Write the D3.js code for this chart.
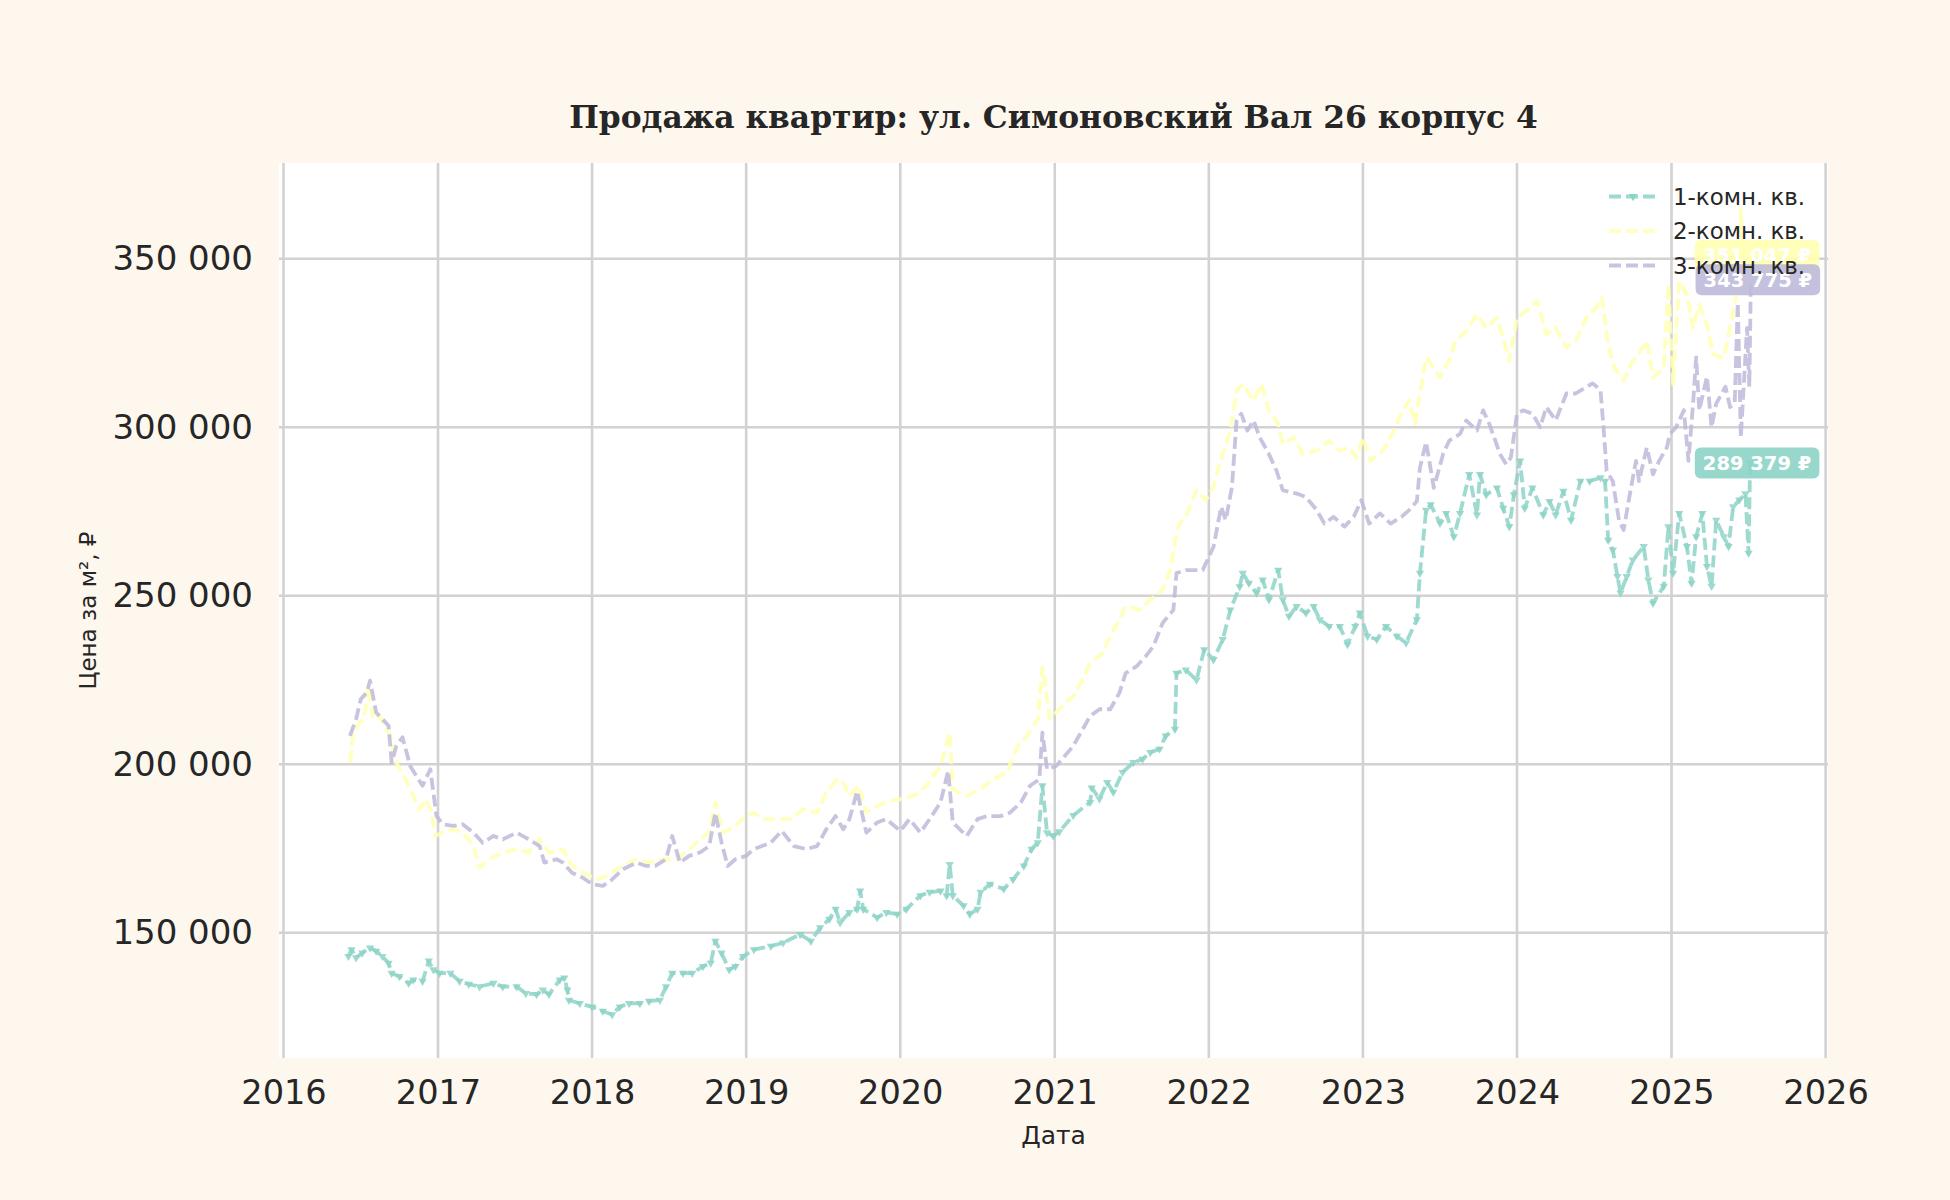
<!DOCTYPE html>
<html>
<head>
<meta charset="utf-8">
<script src="https://cdn.jsdelivr.net/npm/d3@7"></script>
<style>
  body { margin: 0; background: #fef7ed; }
  svg { display: block; }
</style>
</head>
<body>
<div id="chart"></div>
<script>
// ---- data (decimal years, price per m² in thousands of rubles) ----
const oneRoomT = [2016.42,2016.44,2016.47,2016.51,2016.56,2016.60,2016.64,2016.68,2016.70,2016.75,2016.81,2016.84,2016.90,2016.94,2016.97,
  2017.01,2017.08,2017.14,2017.20,2017.27,2017.36,2017.42,2017.51,2017.57,2017.64,2017.68,2017.72,2017.79,2017.82,2017.84,2017.85,2017.92,
  2018.00,2018.07,2018.13,2018.18,2018.24,2018.31,2018.37,2018.44,2018.48,2018.52,2018.59,2018.65,2018.72,2018.77,2018.80,2018.84,2018.89,2018.93,2018.98,
  2019.05,2019.16,2019.24,2019.35,2019.42,2019.48,2019.54,2019.58,2019.61,2019.67,2019.72,2019.74,2019.76,2019.85,2019.91,2019.98,
  2020.04,2020.13,2020.19,2020.26,2020.30,2020.32,2020.34,2020.41,2020.45,2020.50,2020.52,2020.58,2020.67,2020.73,2020.80,2020.85,2020.89,2020.92,2020.95,2020.99,
  2021.03,2021.12,2021.23,2021.24,2021.29,2021.34,2021.38,2021.44,2021.51,2021.57,2021.62,2021.68,2021.72,2021.78,2021.79,2021.85,2021.92,2021.97,
  2022.03,2022.09,2022.14,2022.20,2022.22,2022.26,2022.31,2022.35,2022.39,2022.45,2022.48,2022.52,2022.57,2022.63,2022.68,2022.72,2022.78,2022.85,2022.90,2022.95,2022.98,
  2023.03,2023.09,2023.15,2023.22,2023.28,2023.35,2023.37,2023.41,2023.44,2023.50,2023.54,2023.59,2023.63,2023.69,2023.74,2023.76,2023.80,2023.87,2023.91,2023.95,2023.98,
  2024.02,2024.05,2024.10,2024.17,2024.21,2024.25,2024.30,2024.35,2024.41,2024.47,2024.54,2024.57,2024.59,2024.62,2024.65,2024.67,2024.71,2024.75,2024.82,2024.85,2024.88,2024.95,2024.98,
  2025.01,2025.05,2025.10,2025.13,2025.16,2025.20,2025.23,2025.26,2025.29,2025.34,2025.37,2025.40,2025.44,2025.48,2025.50,2025.51];
const oneRoomV = [143,145,142.6,144,145.5,144.5,143,141,138,137,135,136,135.6,141.6,139,
  138,138,135.6,134.7,134,135,134,134,132,131.7,133,131.7,136,136.6,133,130,129,
  128,126.7,125.7,128,129,129,129.7,130,134,138,138,138,140,141,147.5,144,139,140,143,
  145,146,147,149.5,147.5,151.5,154,157,153,156,157,162.4,157,154.5,156,155.5,
  157,161,162,162.4,161,170.3,161,158,155.5,157,162,164.4,163,165.8,169.8,174.8,176.7,193.6,179.7,178.7,
  180,184.8,188.7,193,189.7,194.6,191.7,197.6,200.5,201.5,203.5,204.5,208.4,210.4,227,228,225,234,
  231,237,245.8,252.7,256.7,253.7,250.8,254.7,248.8,257.6,248.8,243.9,246.8,244.9,246.8,242.9,240.9,240.9,235.5,240.9,244.9,
  238,237,240.9,238,236,242.9,256.7,275.4,277,271.5,274.4,267.5,274.4,286,274,286,280,282,276,270.5,280,
  290,276,282,274,278,274,281,272.4,284,284,285,284,266.5,263.6,255.7,250.8,255.7,260.6,264.6,254.7,247.8,252.8,270.5,
  256.7,274.4,264.6,253.7,267.5,274.4,258.7,252.8,272.4,267.5,264.6,276.4,278.4,280.3,262.6,289.379];

const twoRoomT = [2016.43,2016.45,2016.49,2016.52,2016.55,2016.58,2016.62,2016.69,2016.73,2016.79,2016.84,2016.88,2016.92,2016.96,2016.98,
  2017.03,2017.10,2017.16,2017.23,2017.27,2017.33,2017.42,2017.51,2017.59,2017.66,2017.72,2017.81,2017.87,2017.94,
  2018.03,2018.09,2018.20,2018.29,2018.37,2018.46,2018.54,2018.61,2018.70,2018.76,2018.80,2018.85,2018.93,2019.00,
  2019.05,2019.11,2019.22,2019.29,2019.37,2019.46,2019.52,2019.59,2019.63,2019.67,2019.73,2019.78,2019.85,2019.93,
  2020.00,2020.09,2020.17,2020.26,2020.32,2020.34,2020.43,2020.52,2020.60,2020.69,2020.76,2020.82,2020.89,2020.92,2020.97,
  2021.03,2021.12,2021.18,2021.23,2021.31,2021.36,2021.42,2021.46,2021.55,2021.62,2021.70,2021.75,2021.78,2021.81,2021.85,2021.92,2021.98,
  2022.03,2022.07,2022.14,2022.18,2022.22,2022.29,2022.34,2022.39,2022.45,2022.48,2022.55,2022.61,2022.70,2022.78,2022.85,2022.91,2022.96,
  2023.00,2023.05,2023.13,2023.19,2023.26,2023.30,2023.34,2023.37,2023.41,2023.46,2023.50,2023.56,2023.60,2023.67,2023.74,2023.80,2023.87,2023.91,2023.95,
  2024.00,2024.06,2024.13,2024.19,2024.25,2024.32,2024.38,2024.45,2024.51,2024.55,2024.59,2024.63,2024.69,2024.75,2024.80,2024.84,2024.88,2024.95,2024.98,
  2025.01,2025.05,2025.10,2025.14,2025.18,2025.23,2025.27,2025.34,2025.38,2025.42,2025.45,2025.48,2025.51];
const twoRoomV = [200.5,208.4,212.4,213.4,223.3,213.4,214.4,208.4,200.5,195.5,190.6,186.6,189.6,185.6,178.7,
  179.7,180.7,179.7,175.7,169.3,171.8,173.8,174.8,173.8,177.7,173.8,174.8,169.8,167.8,
  165.8,166.8,169.8,171.8,170.8,171.8,171.8,173.8,177.7,179.7,188.6,179.7,181.7,184.7,
  185.6,183.7,183.7,183.7,186.6,185.6,191.6,195.5,194.5,190.6,193.6,185.6,187.6,189.1,
  189.6,190.6,193.6,199.5,209.4,192.6,190.6,192.6,195.5,197.5,205.4,208.4,213.4,228.7,213.4,
  216.3,220.2,225.1,230,233,237.9,242.9,246.8,245.8,248.8,251.7,257.6,266.5,271.4,273.4,281.3,278.3,
  282.3,289,299,310.8,312.8,307.9,312.8,305,301,295,297,292,293,296,293,294,291,
  297,290,293,298,305,308,301,310,320.7,317.7,314.8,319.7,325.6,328.5,333.5,329.5,332.5,326.6,319.7,
  332.5,334.4,337.4,327.5,329.5,323.6,325.6,332.5,335.4,338.4,324.6,317.7,313.8,319.7,322.6,325.6,314.8,317.7,342.3,
  312.8,343.3,339.4,329.5,336.4,330.5,321.6,320.7,329.5,339.4,365,340,351.047];

const threeRoomT = [2016.43,2016.47,2016.50,2016.54,2016.56,2016.60,2016.64,2016.68,2016.70,2016.73,2016.77,2016.82,2016.86,2016.90,2016.95,2016.97,2016.99,
  2017.03,2017.10,2017.16,2017.23,2017.29,2017.36,2017.42,2017.51,2017.59,2017.66,2017.69,2017.77,2017.81,2017.87,2017.94,
  2018.00,2018.07,2018.13,2018.20,2018.29,2018.35,2018.41,2018.48,2018.52,2018.57,2018.63,2018.70,2018.76,2018.80,2018.84,2018.88,2018.93,2019.00,
  2019.05,2019.16,2019.23,2019.31,2019.39,2019.46,2019.52,2019.58,2019.63,2019.67,2019.72,2019.76,2019.78,2019.85,2019.91,
  2020.00,2020.06,2020.13,2020.19,2020.26,2020.31,2020.34,2020.43,2020.50,2020.56,2020.65,2020.71,2020.78,2020.84,2020.90,2020.92,2020.95,
  2021.01,2021.12,2021.23,2021.29,2021.36,2021.42,2021.46,2021.53,2021.59,2021.64,2021.70,2021.77,2021.79,2021.85,2021.96,
  2022.03,2022.08,2022.11,2022.15,2022.18,2022.21,2022.25,2022.29,2022.33,2022.39,2022.44,2022.48,2022.57,2022.63,2022.70,2022.75,2022.81,2022.88,2022.94,2022.99,
  2023.04,2023.11,2023.18,2023.25,2023.30,2023.35,2023.37,2023.41,2023.46,2023.52,2023.56,2023.63,2023.67,2023.74,2023.78,2023.82,2023.89,2023.93,2023.96,
  2024.00,2024.04,2024.10,2024.15,2024.19,2024.25,2024.32,2024.38,2024.45,2024.49,2024.54,2024.56,2024.58,2024.62,2024.66,2024.69,2024.73,2024.77,2024.79,2024.84,2024.88,2024.92,2024.97,2024.99,
  2025.03,2025.08,2025.11,2025.14,2025.16,2025.18,2025.23,2025.26,2025.29,2025.35,2025.38,2025.41,2025.43,2025.45,2025.49,2025.505,2025.515];
const threeRoomV = [208.4,213.4,219.3,221.3,224.8,215.3,213.4,211.4,200.5,205.4,208,199.5,196.5,193.6,198.5,191.6,184.7,
  182.2,181.7,182.2,179.7,176.7,178.7,177.7,179.7,177.7,175.7,170.8,171.8,170.8,167.8,166.3,
  164.4,163.9,165.8,168.8,170.8,169.8,169.8,171.8,178.7,170.8,172.8,173.8,175.7,185.6,176.7,169.8,171.8,172.8,
  174.8,176.7,180.2,175.7,174.8,175.7,180.7,184.6,180.7,183.7,192,183.7,179.7,182.7,183.7,
  180.2,183.7,179.7,183.7,188.6,198,182.7,178.7,183.7,184.6,184.6,185.6,188.6,193.6,195.5,209.4,198.5,
  199.5,205.4,214.3,216.3,216.3,221.2,227,229,232,235,241.9,245.8,256.7,257.6,257.6,
  264.5,276.4,272.4,282.3,302,304,299,302,297,292,287,281.3,280.3,279.3,275.4,271.4,273.4,270.5,273.4,278.3,
  271.4,274.4,271.4,273.4,275.4,278,288,295.6,282,292,296,298,302,299,305,301,292,289,291,
  304,305,304,300,306,302,310,310,312,313,311,300,287,284,272.4,269.5,280,290,284,294,286,290,294,298,
  300,305,290,307,320.7,305,315,300,307,312,306,307,337,297,329.5,312,343.775];

const seriesNames = ['1-комн. кв.', '2-комн. кв.', '3-комн. кв.'];
const seriesColors = ['#8dd3c7', '#ffffb3', '#bebada'];
const yTicks = [150000, 200000, 250000, 300000, 350000];
const xTickYears = [2016, 2017, 2018, 2019, 2020, 2021, 2022, 2023, 2024, 2025, 2026];

// ---- layout ----
const W = 1950, H = 1200;
const plot = { left: 279, right: 1828, top: 163, bottom: 1058 };

function toDate(t) {
  const y = Math.floor(t);
  const a = new Date(y, 0, 1), b = new Date(y + 1, 0, 1);
  return new Date(+a + (t - y) * (b - a));
}

const series = [
  { name: seriesNames[0], color: seriesColors[0], pts: oneRoomT.map((t, i) => ({ d: toDate(t), v: oneRoomV[i] * 1000 })), marker: true },
  { name: seriesNames[1], color: seriesColors[1], pts: twoRoomT.map((t, i) => ({ d: toDate(t), v: twoRoomV[i] * 1000 })) },
  { name: seriesNames[2], color: seriesColors[2], pts: threeRoomT.map((t, i) => ({ d: toDate(t), v: threeRoomV[i] * 1000 })) }
];

// scales pinned to where the gridlines sit
const x = d3.scaleTime()
  .domain([new Date(2016, 0, 1), new Date(2026, 0, 1)])
  .range([283.5, 1825.6]);
const y = d3.scaleLinear()
  .domain([150000, 350000])
  .range([932.7, 258.7]);

const svg = d3.select('#chart').append('svg')
  .attr('width', W).attr('height', H);

svg.append('rect').attr('width', W).attr('height', H).attr('fill', '#fef7ed');
svg.append('rect')
  .attr('x', plot.left).attr('y', plot.top)
  .attr('width', plot.right - plot.left).attr('height', plot.bottom - plot.top)
  .attr('fill', '#ffffff');

svg.append('defs').append('clipPath').attr('id', 'clip')
  .append('rect')
  .attr('x', plot.left).attr('y', plot.top)
  .attr('width', plot.right - plot.left).attr('height', plot.bottom - plot.top);

// grid
const grid = svg.append('g').attr('class', 'grid');
grid.selectAll('line.v').data(xTickYears).enter().append('line')
  .attr('x1', d => x(new Date(d, 0, 1))).attr('x2', d => x(new Date(d, 0, 1)))
  .attr('y1', plot.top).attr('y2', plot.bottom)
  .attr('stroke', '#d2d2d2').attr('stroke-width', 2.6);
grid.selectAll('line.h').data(yTicks).enter().append('line')
  .attr('x1', plot.left).attr('x2', plot.right)
  .attr('y1', d => y(d)).attr('y2', d => y(d))
  .attr('stroke', '#d2d2d2').attr('stroke-width', 2.6);

// axes
const xAxis = d3.axisBottom(x)
  .tickValues(xTickYears.map(yr => new Date(yr, 0, 1)))
  .tickFormat(d3.timeFormat('%Y'))
  .tickSize(0).tickPadding(0);
const gx = svg.append('g').attr('transform', `translate(0, ${plot.bottom + 22})`).call(xAxis);
gx.select('.domain').remove();
gx.selectAll('text')
  .attr('font-family', 'DejaVu Sans').attr('font-size', 33.6).attr('fill', '#262626');

const yAxis = d3.axisLeft(y)
  .tickValues(yTicks)
  .tickFormat(v => d3.format(',')(v).replace(/,/g, ' '))
  .tickSize(0).tickPadding(0);
const gy = svg.append('g').attr('transform', `translate(${plot.left - 26}, 0)`).call(yAxis);
gy.select('.domain').remove();
gy.selectAll('text')
  .attr('font-family', 'DejaVu Sans').attr('font-size', 34).attr('fill', '#262626');

// lines
const line = d3.line().x(p => x(p.d)).y(p => y(p.v));
const marks = svg.append('g').attr('clip-path', 'url(#clip)');
series.forEach(s => {
  marks.append('path')
    .datum(s.pts)
    .attr('d', line)
    .attr('fill', 'none')
    .attr('stroke', s.color)
    .attr('stroke-opacity', 0.85)
    .attr('stroke-width', 3.8)
    .attr('stroke-dasharray', '12,5')
    .attr('stroke-linejoin', 'round');
  if (s.marker) {
    const tri = d3.symbol().type(d3.symbolTriangle).size(30);
    marks.selectAll(null).data(s.pts).enter().append('path')
      .attr('d', tri)
      .attr('transform', p => `translate(${x(p.d)},${y(p.v)}) rotate(180)`)
      .attr('fill', s.color)
      .attr('fill-opacity', 0.85);
  }
});

// last value labels
[1, 2, 0].forEach(i => {
  const s = series[i];
  const last = s.pts[s.pts.length - 1];
  const cx = x(last.d) + 7, cy = y(last.v);
  const g = svg.append('g');
  const txt = g.append('text')
    .attr('x', cx).attr('y', cy)
    .attr('text-anchor', 'middle').attr('dy', '0.36em')
    .attr('font-family', 'DejaVu Sans').attr('font-weight', 'bold')
    .attr('font-size', 19.5).attr('fill', '#ffffff')
    .text(d3.format(',')(Math.round(last.v)).replace(/,/g, ' ') + ' ₽');
  const w = txt.node().getComputedTextLength() + 16;
  g.insert('rect', 'text')
    .attr('x', cx - w / 2).attr('y', cy - 15.5)
    .attr('width', w).attr('height', 31)
    .attr('rx', 6).attr('ry', 6)
    .attr('fill', s.color).attr('fill-opacity', 0.9);
});

// legend
const legend = svg.append('g');
series.forEach((s, i) => {
  const ly = 196.5 + i * 34.5;
  legend.append('line')
    .attr('x1', 1609).attr('x2', 1657).attr('y1', ly).attr('y2', ly)
    .attr('stroke', s.color).attr('stroke-opacity', 0.85)
    .attr('stroke-width', 3.8).attr('stroke-dasharray', '12,5');
  if (s.marker) {
    legend.append('path')
      .attr('d', d3.symbol().type(d3.symbolTriangle).size(30))
      .attr('transform', `translate(1633,${ly}) rotate(180)`)
      .attr('fill', s.color);
  }
  legend.append('text')
    .attr('x', 1673).attr('y', ly).attr('dy', '0.36em')
    .attr('font-family', 'DejaVu Sans').attr('font-size', 22.9).attr('fill', '#262626')
    .text(s.name);
});

// titles
svg.append('text')
  .attr('x', (plot.left + plot.right) / 2).attr('y', 128)
  .attr('text-anchor', 'middle')
  .attr('font-family', 'DejaVu Serif').attr('font-weight', 'bold')
  .attr('font-size', 31.3).attr('fill', '#262626')
  .text('Продажа квартир: ул. Симоновский Вал 26 корпус 4');

svg.append('text')
  .attr('x', (plot.left + plot.right) / 2).attr('y', 1144)
  .attr('text-anchor', 'middle')
  .attr('font-family', 'DejaVu Sans').attr('font-size', 25).attr('fill', '#262626')
  .text('Дата');

svg.append('text')
  .attr('transform', `translate(96, ${(plot.top + plot.bottom) / 2}) rotate(-90)`)
  .attr('text-anchor', 'middle')
  .attr('font-family', 'DejaVu Sans').attr('font-size', 23).attr('fill', '#262626')
  .text('Цена за м², ₽');
</script>
</body>
</html>
